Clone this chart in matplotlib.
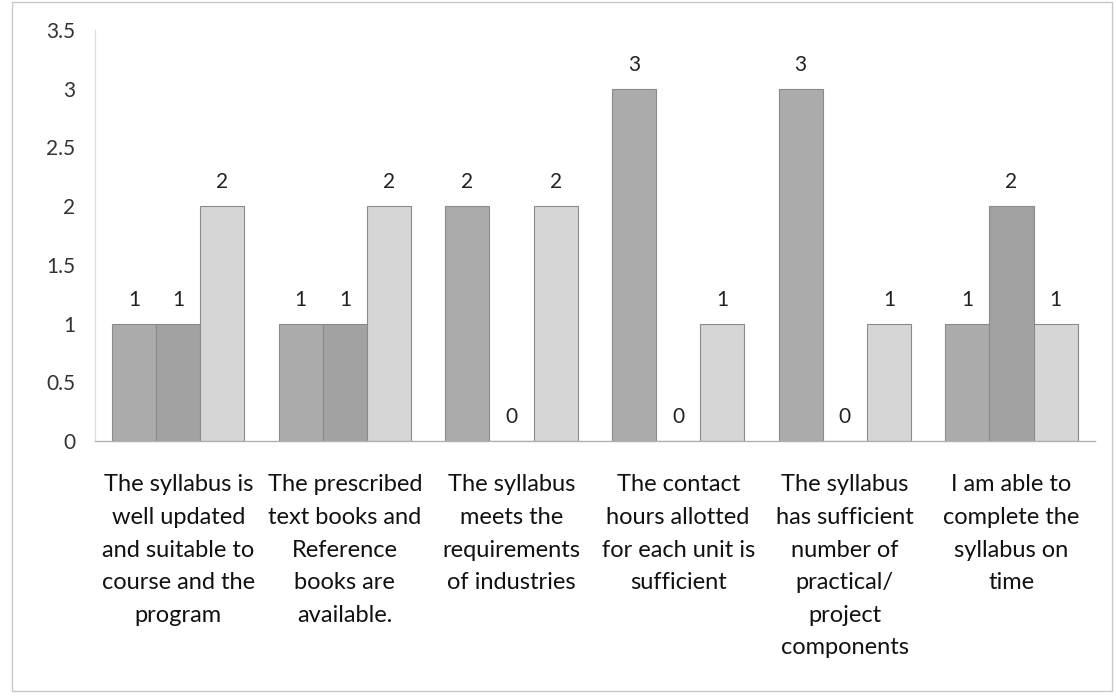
import numpy as np
import matplotlib.pyplot as plt

categories = [
    "The syllabus is\nwell updated\nand suitable to\ncourse and the\nprogram",
    "The prescribed\ntext books and\nReference\nbooks are\navailable.",
    "The syllabus\nmeets the\nrequirements\nof industries",
    "The contact\nhours allotted\nfor each unit is\nsufficient",
    "The syllabus\nhas sufficient\nnumber of\npractical/\nproject\ncomponents",
    "I am able to\ncomplete the\nsyllabus on\ntime",
]
series_a = [1, 1, 2, 3, 3, 1]
series_b = [1, 1, 0, 0, 0, 2]
series_c = [2, 2, 2, 1, 1, 1]
y_ticks = [0, 0.5, 1, 1.5, 2, 2.5, 3, 3.5]
y_tick_labels = ["0", "0.5", "1", "1.5", "2", "2.5", "3", "3.5"]

plt.rcParams["font.family"] = ["Lato", "DejaVu Sans"]

fig = plt.figure(figsize=(11.16, 6.99), dpi=100, facecolor="white")
ax = fig.add_axes([0.085, 0.369, 0.896, 0.588])

x = np.arange(len(categories))
w = 0.265
colors = ["#ababab", "#a2a2a2", "#d6d6d6"]
for i, (vals, col) in enumerate(zip([series_a, series_b, series_c], colors)):
    pos = x + (i - 1) * w
    ax.bar(pos, vals, width=w, color=col, edgecolor="#8a8a8a", linewidth=0.8)
    for p, v in zip(pos, vals):
        ax.text(p, v + 0.12, str(v), ha="center", va="bottom", fontsize=15, color="#222222")

ax.set_xlim(-0.5, len(categories) - 0.5)
ax.set_ylim(0, 3.5)
ax.set_yticks(y_ticks)
ax.set_yticklabels(y_tick_labels, fontsize=15, color="#333333")
ax.tick_params(axis="y", length=0, pad=14)
ax.set_xticks(x)
ax.set_xticklabels(categories, fontsize=17, color="#111111", linespacing=1.68)
ax.tick_params(axis="x", length=0, pad=24)

for s in ["top", "right"]:
    ax.spines[s].set_visible(False)
ax.spines["left"].set_color("#e6d8d8")
ax.spines["left"].set_linewidth(0.8)
ax.spines["bottom"].set_color("#b0b0b0")
ax.spines["bottom"].set_linewidth(1.0)

# outer chart frame
fig.patches.append(plt.Rectangle((0.011, 0.012), 0.985, 0.985, transform=fig.transFigure,
                                 fill=False, edgecolor="#c8c8c8", linewidth=1.0))

plt.savefig("out.png", dpi=100, facecolor="white")
